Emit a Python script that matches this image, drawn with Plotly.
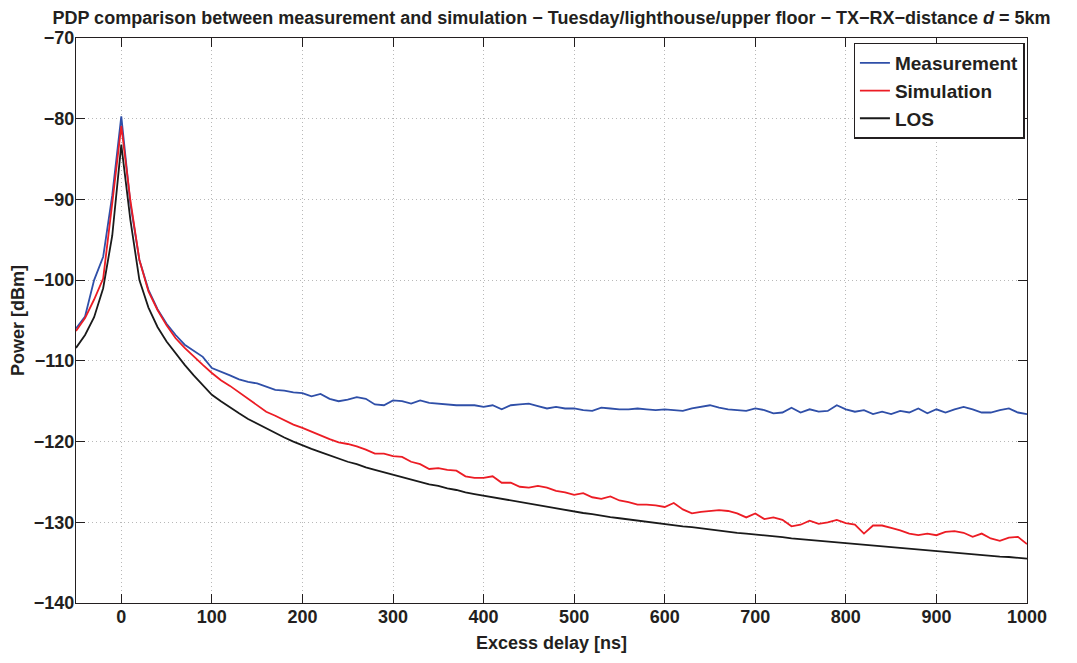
import plotly.graph_objects as go

delay_ns = list(range(-50, 1001, 10))

measurement = [
    -106.0, -104.5, -100.0, -97.1, -89.5, -79.7, -90.5, -97.5, -101.2, -103.6,
    -105.4, -106.8, -108.0, -108.8, -109.5, -110.9, -111.4, -111.8, -112.3, -112.6,
    -112.8, -113.2, -113.6, -113.7, -113.9, -114.0, -114.4, -114.1, -114.7, -115.0,
    -114.8, -114.5, -114.7, -115.4, -115.5, -114.9, -115.0, -115.3, -114.9, -115.2,
    -115.3, -115.4, -115.5, -115.5, -115.5, -115.7, -115.5, -116.0, -115.5, -115.4,
    -115.3, -115.6, -115.9, -115.7, -115.9, -115.9, -116.1, -116.2, -115.8, -115.9,
    -116.0, -116.0, -115.9, -116.0, -116.1, -116.0, -116.1, -116.2, -115.9, -115.7,
    -115.5, -115.8, -116.0, -116.1, -116.2, -115.9, -116.1, -116.5, -116.4, -115.8,
    -116.4, -116.0, -116.3, -116.2, -115.5, -116.0, -116.3, -116.1, -116.6, -116.3,
    -116.6, -116.2, -116.4, -115.9, -116.5, -116.0, -116.4, -116.0, -115.7, -116.0,
    -116.4, -116.4, -116.1, -115.9, -116.4, -116.6,
]

simulation = [
    -106.3, -104.7, -102.4, -99.8, -90.5, -80.9, -90.1, -97.5, -101.4, -103.7,
    -105.6, -107.2, -108.4, -109.5, -110.5, -111.5, -112.4, -113.1, -113.9, -114.8,
    -115.6, -116.3, -116.8, -117.4, -117.9, -118.3, -118.8, -119.2, -119.7, -120.1,
    -120.3, -120.6, -121.0, -121.5, -121.5, -121.8, -121.9, -122.5, -122.8, -123.4,
    -123.3, -123.5, -123.6, -124.3, -124.5, -124.5, -124.3, -125.1, -125.1, -125.6,
    -125.7, -125.5, -125.7, -126.1, -126.3, -126.6, -126.4, -126.9, -127.1, -126.8,
    -127.3, -127.5, -127.8, -127.8, -127.9, -128.1, -127.6, -128.4, -128.9, -128.7,
    -128.6, -128.5, -128.6, -128.9, -129.4, -128.9, -129.6, -129.4, -129.7, -130.5,
    -130.3, -129.8, -130.2, -130.0, -129.7, -130.1, -130.3, -131.4, -130.4, -130.4,
    -130.7, -131.0, -131.4, -131.6, -131.4, -131.6, -131.2, -131.1, -131.3, -131.8,
    -131.4, -132.0, -132.3, -131.9, -131.8, -132.7,
]

los = [
    -108.4, -106.8, -104.6, -101.0, -94.5, -83.2, -92.5, -100.0, -103.4, -105.8,
    -107.6, -109.1, -110.5, -111.8, -113.0, -114.2, -115.0, -115.8, -116.5, -117.2,
    -117.8, -118.4, -119.0, -119.5, -120.0, -120.5, -120.9, -121.3, -121.7, -122.1,
    -122.5, -122.8, -123.2, -123.5, -123.8, -124.1, -124.4, -124.7, -125.0, -125.3,
    -125.5, -125.8, -126.0, -126.3, -126.5, -126.7, -126.9, -127.1, -127.3, -127.5,
    -127.7, -127.9, -128.1, -128.3, -128.5, -128.7, -128.85, -129.0, -129.2, -129.35,
    -129.5, -129.65, -129.8, -129.95, -130.1, -130.2, -130.35, -130.5, -130.6, -130.75,
    -130.9, -131.0, -131.15, -131.3, -131.4, -131.5, -131.6, -131.75, -131.85, -132.0,
    -132.1, -132.2, -132.3, -132.4, -132.5, -132.6, -132.7, -132.8, -132.9, -133.0,
    -133.1, -133.2, -133.3, -133.4, -133.5, -133.6, -133.7, -133.8, -133.85, -133.95,
    -134.05, -134.15, -134.25, -134.3, -134.4, -134.5,
]

x_ticks = list(range(0, 1001, 100))
y_ticks = list(range(-140, -69, 10))

FONT = "Liberation Sans, Arial, Helvetica, sans-serif"
TXT = "#231f20"

# the page body adds an 8px margin, so the figure is sized to fit inside it
W, H = 1061, 647

fig = go.Figure()
fig.add_trace(go.Scatter(x=delay_ns, y=measurement, mode="lines", name="<b>Measurement</b>",
                         line=dict(color="#2f4fa8", width=1.8)))
fig.add_trace(go.Scatter(x=delay_ns, y=simulation, mode="lines", name="<b>Simulation</b>",
                         line=dict(color="#ec1c24", width=1.8)))
fig.add_trace(go.Scatter(x=delay_ns, y=los, mode="lines", name="<b>LOS</b>",
                         line=dict(color="#1a1a1a", width=1.8)))

axis_common = dict(
    showline=True, linecolor="#231f20", linewidth=1.3, mirror="ticks",
    ticks="inside", ticklen=9, tickcolor="#231f20", tickwidth=1.3,
    showgrid=True, gridcolor="#b8b8b8", griddash="1px,3px", gridwidth=1,
    zeroline=False, automargin=False,
    tickfont=dict(family=FONT, size=18, color=TXT, weight="bold"),
)

fig.update_layout(
    width=W, height=H,
    paper_bgcolor="white", plot_bgcolor="white",
    margin=dict(l=68, r=42, t=30, b=52, autoexpand=False),
    font=dict(family=FONT, size=18, color=TXT),
    title=dict(
        text="<b>PDP comparison between measurement and simulation \u2212 Tuesday/lighthouse/upper floor \u2212 TX\u2212RX\u2212distance <i>d</i> = 5km</b>",
        x=0.5, xref="paper", xanchor="center",
        y=1 - 10 / H, yref="container", yanchor="middle",
        font=dict(family=FONT, size=18, color=TXT),
    ),
    xaxis=dict(
        range=[-50, 1000], tickvals=x_ticks, ticklabelstandoff=-3,
        title=dict(text="<b>Excess delay [ns]</b>", standoff=10,
                   font=dict(family=FONT, size=18, color=TXT)),
        **axis_common,
    ),
    yaxis=dict(
        range=[-140, -70], tickvals=y_ticks, ticklabelstandoff=-3,
        title=dict(text="<b>Power [dBm]</b>", standoff=8,
                   font=dict(family=FONT, size=18, color=TXT)),
        **axis_common,
    ),
    legend=dict(
        x=0.9975, y=0.9917, xanchor="right", yanchor="top",
        bgcolor="white", bordercolor="#231f20", borderwidth=1.3,
        font=dict(family=FONT, size=19, color=TXT),
        tracegroupgap=0, itemwidth=30,
    ),
    showlegend=True,
)

fig.write_html("out.html")
